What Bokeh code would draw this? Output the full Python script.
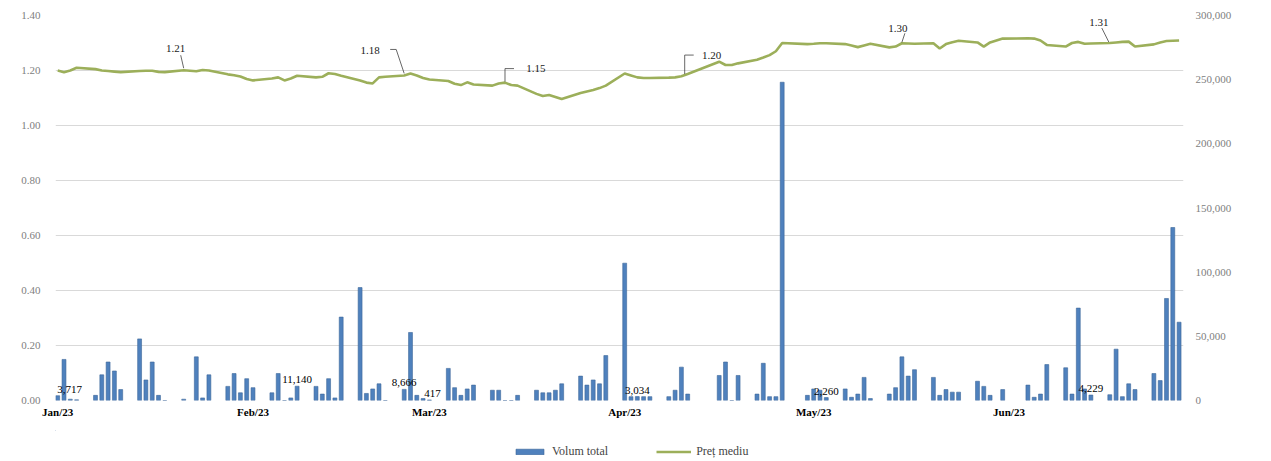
import pandas as pd
from bokeh.plotting import figure
from bokeh.layouts import column
from bokeh.models import (ColumnDataSource, Range1d, LinearAxis, FixedTicker, Label,
                          DatetimeTickFormatter, NumeralTickFormatter, Legend, LegendItem)
from bokeh.embed import file_html
from bokeh.resources import INLINE

# ---------------- data ----------------
dates = [
    "2023-01-03", "2023-01-04", "2023-01-05", "2023-01-06", "2023-01-09", "2023-01-10", "2023-01-11",
    "2023-01-12", "2023-01-13", "2023-01-16", "2023-01-17", "2023-01-18", "2023-01-19", "2023-01-20",
    "2023-01-23", "2023-01-25", "2023-01-26", "2023-01-27", "2023-01-30", "2023-01-31",
    "2023-02-01", "2023-02-02", "2023-02-03", "2023-02-06", "2023-02-07", "2023-02-08", "2023-02-09",
    "2023-02-10", "2023-02-13", "2023-02-14", "2023-02-15", "2023-02-16", "2023-02-17", "2023-02-20",
    "2023-02-21", "2023-02-22", "2023-02-23", "2023-02-24", "2023-02-27", "2023-02-28",
    "2023-03-01", "2023-03-02", "2023-03-03", "2023-03-06", "2023-03-07", "2023-03-08", "2023-03-09",
    "2023-03-10", "2023-03-13", "2023-03-14", "2023-03-15", "2023-03-16", "2023-03-17", "2023-03-20",
    "2023-03-21", "2023-03-22", "2023-03-23", "2023-03-24", "2023-03-27", "2023-03-28", "2023-03-29",
    "2023-03-30", "2023-03-31",
    "2023-04-03", "2023-04-04", "2023-04-05", "2023-04-06", "2023-04-07", "2023-04-10", "2023-04-11",
    "2023-04-12", "2023-04-13", "2023-04-18", "2023-04-19", "2023-04-20", "2023-04-21", "2023-04-24",
    "2023-04-25", "2023-04-26", "2023-04-27", "2023-04-28",
    "2023-05-02", "2023-05-03", "2023-05-04", "2023-05-05", "2023-05-08", "2023-05-09", "2023-05-10",
    "2023-05-11", "2023-05-12", "2023-05-15", "2023-05-16", "2023-05-17", "2023-05-18", "2023-05-19",
    "2023-05-22", "2023-05-23", "2023-05-24", "2023-05-25", "2023-05-26", "2023-05-29", "2023-05-30",
    "2023-05-31",
    "2023-06-02", "2023-06-06", "2023-06-07", "2023-06-08", "2023-06-09", "2023-06-12", "2023-06-13",
    "2023-06-14", "2023-06-15", "2023-06-16", "2023-06-19", "2023-06-20", "2023-06-21", "2023-06-22",
    "2023-06-23", "2023-06-26", "2023-06-27", "2023-06-28", "2023-06-29", "2023-06-30",
]

volume = [
    3717, 32000, 1000, 500, 4000, 20000, 30000, 23000, 8500, 48000, 16000, 30000, 4000, 0,
    1000, 34000, 2000, 20000, 11000, 21000,
    6000, 17000, 10000, 6000, 21000, 0, 2000, 11140, 11000, 5000, 17000, 2000, 65000, 88000,
    5500, 9000, 13000, 0, 8666, 53000,
    4000, 1500, 417, 25000, 10000, 4000, 9000, 12000, 8000, 8000, 0, 0, 4000, 8000,
    6000, 6000, 8000, 13000, 19000, 12000, 16000, 13000, 35000,
    107000, 3000, 3034, 3000, 3000, 3000, 8000, 26000, 5000, 19500, 30000, 0, 19500, 5000,
    29000, 3000, 3000, 248000,
    4000, 9000, 8000, 2260, 9000, 2500, 5000, 18000, 1500, 5000, 10000, 34000, 19000, 24000,
    18000, 4000, 8500, 6500, 6500, 15000, 11000, 4000,
    8500, 12000, 2500, 5000, 28000, 25500, 5000, 72000, 9000, 4229, 4500, 40000, 3000, 13000,
    8500, 21000, 15500, 79500, 134800, 61000,
]

price = [
    1.200, 1.194, 1.200, 1.210, 1.205, 1.200, 1.198, 1.196, 1.194, 1.198, 1.199, 1.199, 1.195, 1.194,
    1.201, 1.197, 1.202, 1.200, 1.186, 1.183,
    1.178, 1.169, 1.164, 1.171, 1.175, 1.164, 1.171, 1.181, 1.175, 1.177, 1.190, 1.187, 1.181, 1.164,
    1.156, 1.153, 1.175, 1.177, 1.182, 1.189,
    1.182, 1.173, 1.167, 1.162, 1.152, 1.147, 1.157, 1.149, 1.145, 1.153, 1.156, 1.147, 1.145, 1.115,
    1.107, 1.111, 1.104, 1.096, 1.118, 1.124, 1.129, 1.136, 1.145,
    1.189, 1.182, 1.175, 1.173, 1.173, 1.174, 1.175, 1.179, 1.187, 1.232, 1.220, 1.220, 1.226, 1.239,
    1.247, 1.256, 1.270, 1.300,
    1.296, 1.297, 1.299, 1.299, 1.296, 1.291, 1.285, 1.291, 1.297, 1.284, 1.287, 1.299, 1.298, 1.297,
    1.299, 1.280, 1.296, 1.303, 1.308, 1.302, 1.287, 1.302,
    1.316, 1.317, 1.316, 1.309, 1.293, 1.287, 1.300, 1.304, 1.297, 1.298, 1.300, 1.302, 1.304, 1.305,
    1.287, 1.295, 1.302, 1.307, 1.308, 1.309,
]

tick_dates = ["2023-01-03", "2023-02-03", "2023-03-03", "2023-04-03", "2023-05-03", "2023-06-03"]
price_ticks = [0.0, 0.2, 0.4, 0.6, 0.8, 1.0, 1.2, 1.4]
volume_ticks = [0, 50000, 100000, 150000, 200000, 250000, 300000]

vol_label_dates = ["2023-01-03", "2023-02-10", "2023-02-27", "2023-03-03", "2023-04-05", "2023-05-05", "2023-06-16"]
price_label_dates = ["2023-01-23", "2023-02-27", "2023-03-15", "2023-04-13", "2023-05-17", "2023-06-19"]
price_label_text = ["1.21", "1.18", "1.15", "1.20", "1.30", "1.31"]
series_names = ["Volum total", "Preț mediu"]

# ---------------- styling / layout ----------------
SERIF = "Liberation Serif"
BAR_COLOR = "#4F81BD"
BAR_EDGE = "#3C6699"
LINE_COLOR = "#9CAF5A"
ML, MR, MT, MB = 55, 88, 15, 30
FRAME_W, FRAME_H = 1128, 385
LEGEND_H = 31
LEGEND_X = 457          # legend start, measured from the left edge of the plot frame
DAY = pd.Timedelta(days=1)


def ms(ts):
    return pd.Timestamp(ts).value / 1e6


x_start = pd.Timestamp(dates[0]) - 0.35 * DAY
x_end = pd.Timestamp(dates[-1]) + 0.7 * DAY
px_per_day = FRAME_W / ((x_end - x_start) / DAY)
px_per_unit = FRAME_H / price_ticks[-1]

dt = pd.to_datetime(dates)
src = ColumnDataSource(dict(date=dt, vol=volume, price=price))

p = figure(frame_width=FRAME_W, frame_height=FRAME_H, x_axis_type="datetime", output_backend="svg",
           toolbar_location=None, min_border_left=ML, min_border_right=MR,
           min_border_top=MT, min_border_bottom=MB,
           x_range=Range1d(x_start, x_end), y_range=Range1d(0, price_ticks[-1]))
p.extra_y_ranges = {"vol": Range1d(0, volume_ticks[-1])}
p.outline_line_color = None
p.background_fill_color = "white"
p.border_fill_color = "white"

bars = p.vbar(x="date", top="vol", width=0.62 * 86400000, source=src, y_range_name="vol",
              fill_color=BAR_COLOR, line_color=BAR_EDGE, line_width=0.6)
line = p.line(x="date", y="price", source=src, line_color=LINE_COLOR, line_width=2.6)

# grid
p.xgrid.visible = False
p.ygrid.grid_line_color = "#D9D9D9"
p.ygrid.grid_line_width = 1

# axes
yl = p.yaxis[0]
yl.ticker = FixedTicker(ticks=price_ticks)
yl.formatter = NumeralTickFormatter(format="0.00")
yr = LinearAxis(y_range_name="vol", ticker=FixedTicker(ticks=volume_ticks),
                formatter=NumeralTickFormatter(format="0,0"))
p.add_layout(yr, "right")
for ax in (yl, yr):
    ax.axis_line_color = None
    ax.major_tick_line_color = None
    ax.minor_tick_line_color = None
    ax.major_tick_out = 0
    ax.major_tick_in = 0
    ax.major_label_text_font = SERIF
    ax.major_label_text_font_size = "11px"
    ax.major_label_text_color = "#808080"
yl.major_label_standoff = 15
yr.major_label_standoff = 12

xa = p.xaxis[0]
xa.ticker = FixedTicker(ticks=[ms(d) for d in tick_dates])
fmt = "%b/%y"
xa.formatter = DatetimeTickFormatter(milliseconds=fmt, seconds=fmt, minsec=fmt, minutes=fmt,
                                     hourmin=fmt, hours=fmt, days=fmt, months=fmt, years=fmt)
xa.axis_line_color = None
xa.major_tick_line_color = None
xa.minor_tick_line_color = None
xa.major_tick_out = 0
xa.major_tick_in = 0
xa.major_label_text_font = SERIF
xa.major_label_text_font_size = "11px"
xa.major_label_text_font_style = "bold"
xa.major_label_text_color = "#000000"
xa.major_label_standoff = 5

# volume data labels
vol_lookup = dict(zip(dates, volume))
vol_label_dx = [12, 0, 0, 3, 0, 0, 0]
for d, dx in zip(vol_label_dates, vol_label_dx):
    p.add_layout(Label(x=ms(d), y=vol_lookup[d], y_range_name="vol", text=f"{vol_lookup[d]:,}",
                       text_align="center", text_baseline="bottom", x_offset=dx, y_offset=3,
                       text_font=SERIF, text_font_size="11px", text_color="#000000"))

# price data labels with leader lines
price_lookup = dict(zip(dates, price))
label_dx = [-8, -34, 31, 24, -4, -11]
label_dy = [-22, -25, -14, -19, -15, -21]
leader_paths = [
    [(0, -2), (-3, -15)],
    [(0, -2), (-8, -26), (-14, -26)],
    [(0, -1), (0, -14), (9, -14)],
    [(-3, 0), (-3, -19), (6, -19)],
    [(0, -1), (3, -10)],
    [(-1, -1), (-8, -15)],
]
lxs, lys = [], []
for d, path in zip(price_label_dates, leader_paths):
    t0 = pd.Timestamp(d)
    v0 = price_lookup[d]
    lxs.append([ms(t0 + (dx / px_per_day) * DAY) for dx, dy in path])
    lys.append([v0 - dy / px_per_unit for dx, dy in path])
p.multi_line(xs=lxs, ys=lys, line_color="#404040", line_width=0.8)

for d, t, dx, dy in zip(price_label_dates, price_label_text, label_dx, label_dy):
    p.add_layout(Label(x=ms(d), y=price_lookup[d], text=t, x_offset=dx, y_offset=-dy,
                       text_align="center", text_baseline="middle",
                       text_font=SERIF, text_font_size="11px", text_color="#1a1a1a"))

# ---------------- legend strip below the chart ----------------
# The strip re-uses the first data row; its ranges lie beside/below those marks,
# so only the legend swatches are drawn.
span = x_end - x_start
lg = figure(width=ML + FRAME_W + MR, height=LEGEND_H, output_backend="svg", toolbar_location=None,
            x_axis_location=None, y_axis_location=None, min_border=0,
            x_range=Range1d(x_end, x_end + span),
            y_range=Range1d(-volume_ticks[-1], -volume_ticks[-1] / 2))
lg.outline_line_color = None
lg.grid.visible = False
lg.background_fill_color = "white"
lg.border_fill_color = "white"
first = ColumnDataSource(dict(date=[ms(dates[0])], vol=volume[:1], price=price[:1]))
lg_bar = lg.vbar(x="date", top="vol", width=0.62 * 86400000, source=first,
                 fill_color=BAR_COLOR, line_color=BAR_EDGE, line_width=0.6)
lg_line = lg.line(x="date", y="price", source=first, line_color=LINE_COLOR, line_width=2.6)
legend = Legend(items=[LegendItem(label=series_names[0], renderers=[lg_bar]),
                       LegendItem(label=series_names[1], renderers=[lg_line])],
                orientation="horizontal", location=(LEGEND_X, 2),
                label_text_font=SERIF, label_text_font_size="12px",
                label_height=12, label_standoff=5,
                border_line_color=None, background_fill_alpha=0,
                glyph_width=35, glyph_height=7, spacing=48, padding=0, margin=0)
lg.add_layout(legend, "center")

layout = column(p, lg, spacing=0)
open("out.html", "w").write(file_html(layout, INLINE))
